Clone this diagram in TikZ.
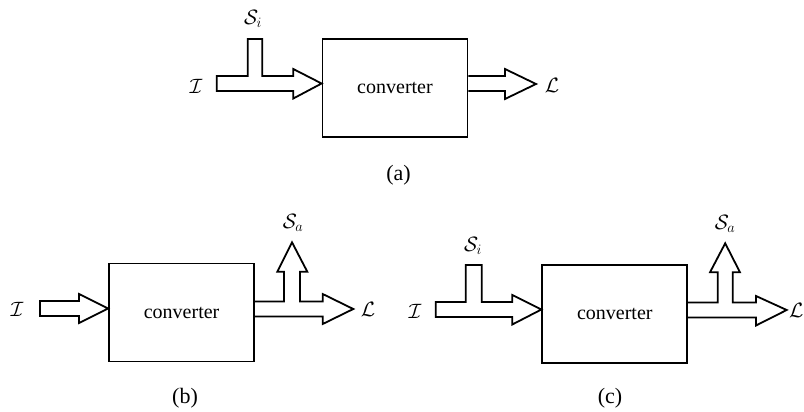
\documentclass[tikz,border=0pt]{standalone}
\usepackage{fontspec}
\setmainfont{Liberation Serif}
\begin{document}
\begin{tikzpicture}[x=1pt,y=-1pt,
  conv/.style={draw,line width=1.8pt,minimum width=145pt,minimum height=98pt,inner sep=0pt,font=\fontsize{20}{24}\selectfont},
  blockarrow/.style={draw,line width=1.8pt,line join=miter},
  lbl/.style={inner sep=0pt,font=\fontsize{22}{26}\selectfont},
  sublabel/.style={inner sep=0pt,font=\fontsize{22}{26}\selectfont}]
\useasboundingbox (0,0) rectangle (804,412);

% ---------- (a) ----------
\node[conv] (ba) at (395,87.8) {converter};
\draw[blockarrow] (216.7,76) -- (247.7,76) -- (247.7,39) -- (262.3,39) -- (262.3,76)
  -- (293.3,76) -- (293.3,69) -- (ba.west |- 0,83.5) -- (293.3,98.5) -- (293.3,91) -- (216.7,91) -- cycle;
\draw[blockarrow] (ba.east |- 0,76) -- (505,76) -- (505,69) -- (536,84) -- (505,99) -- (505,91) -- (ba.east |- 0,91);
\node[lbl] (ia) at (196,86) {$\mathcal{I}$};
\node[lbl] (sia) at (253,19) {$\mathcal{S}_i$};
\node[lbl] (la) at (552,85) {$\mathcal{L}$};
\node[sublabel] (capa) at (398.5,175) {(a)};

% ---------- (b) ----------
\node[conv] (bb) at (181.6,312.5) {converter};
\draw[blockarrow] (40,301) -- (79,301) -- (79,294) -- (bb.west |- 0,308.5) -- (79,323) -- (79,316) -- (40,316) -- cycle;
\draw[blockarrow] (bb.east |- 0,301.5) -- (284,301.5) -- (284,271.7) -- (277.3,271.7) -- (292,242.3)
  -- (307.3,271.7) -- (300,271.7) -- (300,301.5) -- (322.7,301.5) -- (322.7,294) -- (353.3,309)
  -- (322.7,324) -- (322.7,316.5) -- (bb.east |- 0,316.5);
\node[lbl] (ib) at (17,309) {$\mathcal{I}$};
\node[lbl] (sab) at (293,223) {$\mathcal{S}_a$};
\node[lbl] (lb) at (368,309) {$\mathcal{L}$};
\node[sublabel] (capb) at (185,398.3) {(b)};

% ---------- (c) ----------
\node[conv] (bc) at (614.8,313.8) {converter};
\draw[blockarrow] (435.7,302) -- (465.7,302) -- (465.7,265) -- (481.7,265) -- (481.7,302)
  -- (512.3,302) -- (512.3,295) -- (bc.west |- 0,309.5) -- (512.3,324.5) -- (512.3,317) -- (435.7,317) -- cycle;
\draw[blockarrow] (bc.east |- 0,302.5) -- (717.7,302.5) -- (717.7,272.3) -- (710,272.3) -- (725.2,243.3)
  -- (740,272.3) -- (732.7,272.3) -- (732.7,302.5) -- (756,302.5) -- (756,296) -- (786.7,310)
  -- (756,325.5) -- (756,317.5) -- (bc.east |- 0,317.5);
\node[lbl] (ic) at (415,311) {$\mathcal{I}$};
\node[lbl] (sic) at (473,246) {$\mathcal{S}_i$};
\node[lbl] (sac) at (725,224) {$\mathcal{S}_a$};
\node[lbl,anchor=east] (lc) at (803.5,310) {$\mathcal{L}$};
\node[sublabel] (capc) at (610,398.3) {(c)};
\end{tikzpicture}
\end{document}
